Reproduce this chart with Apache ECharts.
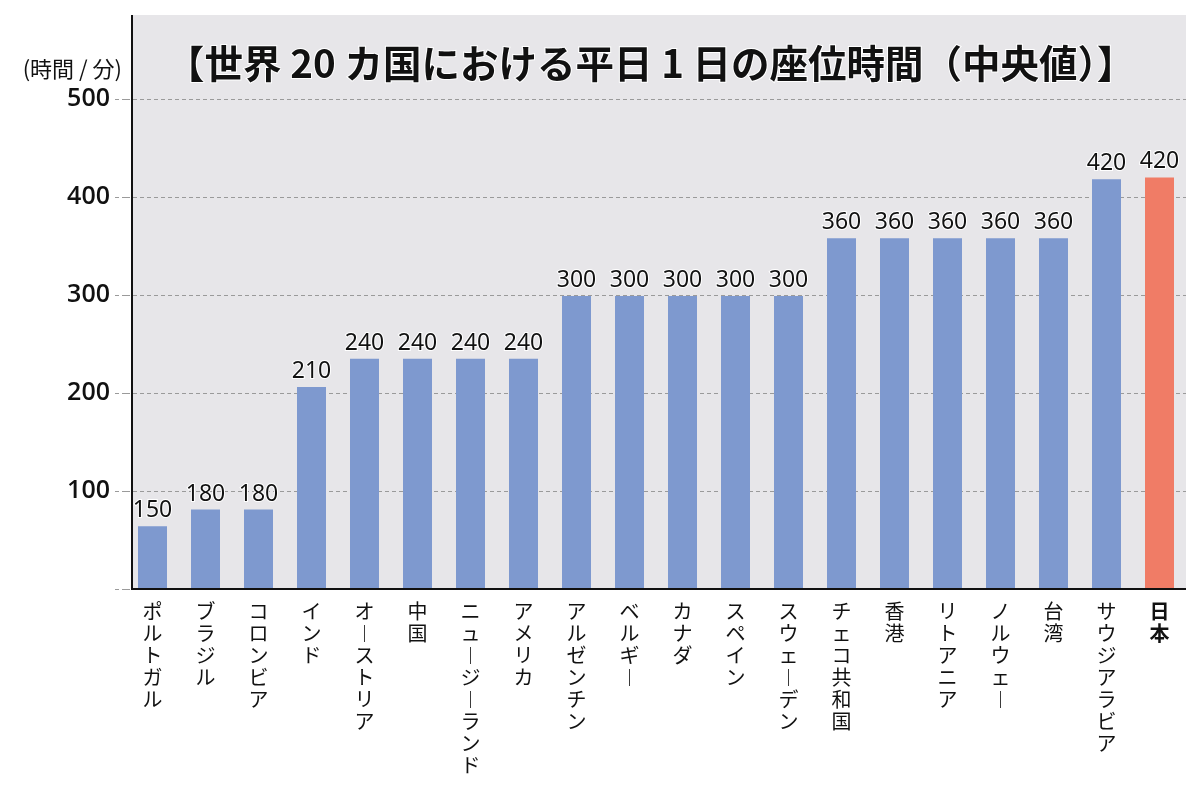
<!DOCTYPE html>
<html>
<head>
<meta charset="utf-8">
<script src="https://cdn.jsdelivr.net/npm/echarts@6/dist/echarts.min.js"></script>
<style>html,body{margin:0;padding:0;background:#fff;}#c{width:1200px;height:791px;}</style>
</head>
<body>
<div id="c"></div>
<script>
const categories = ['ポルトガル','ブラジル','コロンビア','インド','オーストリア','中国','ニュージーランド','アメリカ','アルゼンチン','ベルギー','カナダ','スペイン','スウェーデン','チェコ共和国','香港','リトアニア','ノルウェー','台湾','サウジアラビア','日本'];
// bar heights as drawn in the picture (minutes)
const barValues = [64,81,81,206,235,235,235,235,299,299,299,299,299,358,358,358,358,358,418,420];
// values printed above the bars
const labelValues = [150,180,180,210,240,240,240,240,300,300,300,300,300,360,360,360,360,360,420,420];
const yTicks = [100,200,300,400,500];
const highlight = '日本';

const BLUE = '#7E99CF', RED = '#F07C66', BG = '#E7E6E9';
const FONT = '"Noto Sans CJK JP", "Noto Sans", sans-serif';

function vertical(s){
  return s.split('').map(ch => ch === 'ー' ? '︱' : ch).join('\n');
}

const chart = echarts.init(document.getElementById('c'));
chart.setOption({
  animation: false,
  backgroundColor: '#fff',
  title: {
    text: '【世界 20 カ国における平日 1 日の座位時間（中央値）】',
    left: 166, top: 44, padding: 0,
    textStyle: { fontFamily: FONT, fontSize: 38.5, fontWeight: 'bold', color: '#111',
                 textBorderColor: '#fff', textBorderWidth: 2 }
  },
  grid: { left: 126, right: 14, top: 99, bottom: 202, containLabel: false, outerBoundsMode: 'none' },
  graphic: [
    { type: 'rect', z: -10, shape: { x: 132, y: 15, width: 1054, height: 574 }, style: { fill: BG } },
    { type: 'line', z: 100, shape: { x1: 132, y1: 15, x2: 132, y2: 590 }, style: { stroke: '#111', lineWidth: 2 } },
    { type: 'line', z: 100, shape: { x1: 131, y1: 589, x2: 1186, y2: 589 }, style: { stroke: '#111', lineWidth: 2 } }
  ],
  xAxis: {
    type: 'category',
    data: categories.map(c => c === highlight ? { value: c, textStyle: { fontWeight: 'bold' } } : c),
    axisLine: { show: false },
    axisTick: { show: false },
    axisLabel: {
      interval: 0, margin: 11,
      fontFamily: FONT, fontSize: 20, lineHeight: 22, color: '#111',
      verticalAlign: 'top',
      formatter: v => vertical(v)
    }
  },
  yAxis: {
    type: 'value', min: 0, max: 500, interval: 100,
    name: '(時間 / 分)', nameLocation: 'end', nameGap: 19,
    nameTextStyle: { fontFamily: FONT, fontSize: 22, color: '#111', align: 'right', padding: [0, 4, 0, 0] },
    axisLine: { show: false },
    axisTick: { show: true, length: 13, lineStyle: { color: '#9a9a9a', type: [4, 3], width: 1 } },
    splitLine: { show: true, lineStyle: { color: '#9a9a9a', type: [4, 3], width: 1 } },
    axisLabel: {
      margin: 16, fontFamily: '"Open Sans", "Noto Sans", sans-serif', fontSize: 25, fontWeight: 600, color: '#111',
      formatter: v => (yTicks.indexOf(v) >= 0 ? String(v) : '')
    }
  },
  series: [{
    type: 'bar',
    barWidth: 29,
    data: barValues.map((v, i) => ({
      value: v,
      itemStyle: { color: categories[i] === highlight ? RED : BLUE }
    })),
    label: {
      show: true, position: 'top', distance: 4,
      fontFamily: '"Noto Sans", sans-serif', fontSize: 23, color: '#111',
      textBorderColor: '#fff', textBorderWidth: 2,
      formatter: p => String(labelValues[p.dataIndex])
    }
  }]
});
</script>
</body>
</html>
